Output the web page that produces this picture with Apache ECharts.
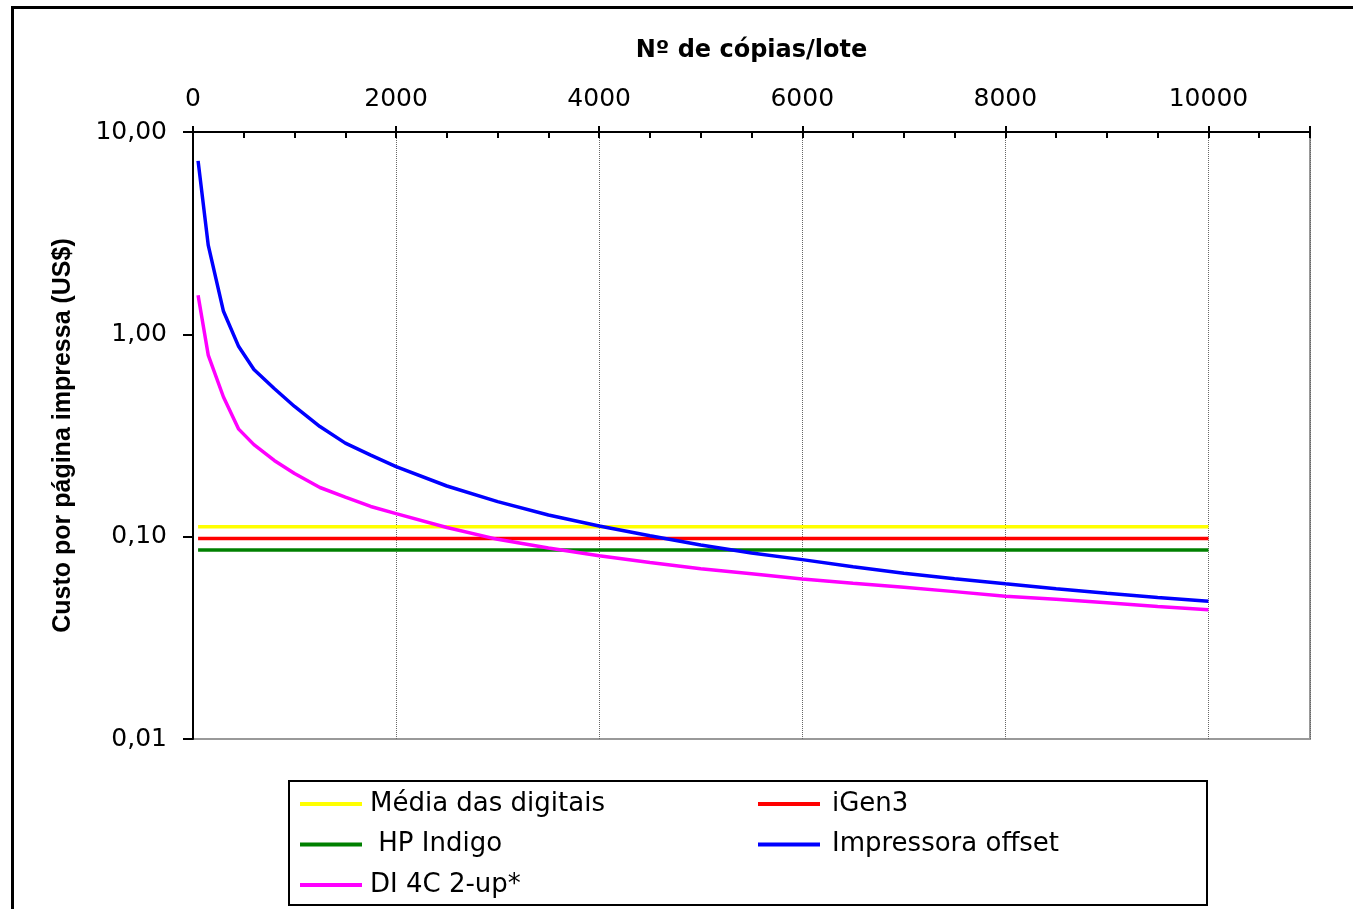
<!DOCTYPE html>
<html><head><meta charset="utf-8">
<script src="https://cdn.jsdelivr.net/npm/echarts@6/dist/echarts.min.js"></script>
<style>html,body{margin:0;padding:0;background:#fff}#c{width:1353px;height:909px}</style>
</head><body><div id="c"></div>
<script>
// ---- data ----
const copies = [50,150,300,450,600,800,1000,1250,1500,1750,2000,2500,3000,3500,4000,4500,5000,5500,6000,6500,7000,7500,8000,8500,9000,9500,10000];
const offsetCost = [7.2,2.76,1.30,0.87,0.67,0.54,0.44,0.35,0.29,0.253,0.222,0.178,0.149,0.128,0.113,0.101,0.091,0.083,0.077,0.071,0.066,0.062,0.0585,0.0553,0.0525,0.050,0.048];
const di4cCost = [1.56,0.79,0.49,0.34,0.285,0.238,0.205,0.175,0.157,0.141,0.130,0.111,0.097,0.088,0.0805,0.0745,0.0695,0.0655,0.0617,0.0588,0.0562,0.0535,0.0508,0.049,0.0471,0.0452,0.0435];
const flatRange = [50, 10000];
const mediaDigitais = 0.112;
const iGen3Cost = 0.098;
const hpIndigoCost = 0.086;
const xTickLabels = [0,2000,4000,6000,8000,10000];
const yTickLabels = ['0,01','0,10','1,00','10,00'];
const seriesNames = ['Média das digitais','iGen3',' HP Indigo','Impressora offset','DI 4C 2-up*'];

const pair = (xs, ys) => xs.map((x, i) => [x, ys[i]]);
const flat = v => flatRange.map(x => [x, v]);

const chart = echarts.init(document.getElementById('c'), null, {renderer: 'canvas'});
const lineSeries = (name, data, color) => ({
  name, type: 'line', data, xAxisIndex: 0, yAxisIndex: 0,
  showSymbol: false, symbol: 'none', smooth: false,
  lineStyle: {color, width: 3.5}, itemStyle: {color}
});
const legendText = {fontFamily: 'DejaVu Sans', fontSize: 26, color: '#000', lineHeight: 26};

chart.setOption({
  animation: false,
  backgroundColor: '#fff',
  grid: {left: 193, right: 43, top: 132, bottom: 170, show: true, borderColor: '#999', borderWidth: 2, backgroundColor: 'transparent'},
  xAxis: [{
    type: 'value', position: 'top', min: 0, max: 11000, interval: 2000,
    name: 'Nº de cópias/lote', nameLocation: 'middle', nameGap: 69,
    nameTextStyle: {fontFamily: 'DejaVu Sans', fontWeight: 'bold', fontSize: 24, color: '#000'},
    axisLine: {show: true, onZero: false, lineStyle: {color: '#000', width: 2}},
    axisTick: {show: true, inside: false, length: 6, lineStyle: {color: '#000', width: 2}},
    axisLabel: {show: true, margin: 20, fontFamily: 'DejaVu Sans', fontSize: 25, color: '#000',
      formatter: v => xTickLabels.includes(v) ? String(v) : ''},
    splitLine: {show: true, lineStyle: {color: '#666', width: 1, type: [1, 1]}}
  }, {
    type: 'value', position: 'top', min: 0, max: 11000, interval: 500,
    axisLine: {show: false}, axisLabel: {show: false}, splitLine: {show: false},
    axisTick: {show: true, inside: true, length: 6, lineStyle: {color: '#000', width: 2}}
  }],
  yAxis: {
    type: 'log', logBase: 10, min: 0.01, max: 10,
    name: 'Custo por página impressa (US$)', nameLocation: 'middle', nameGap: 117, nameRotate: 90,
    nameTextStyle: {fontFamily: 'Liberation Sans', fontWeight: 'bold', fontSize: 25, color: '#000'},
    axisLine: {show: true, onZero: false, lineStyle: {color: '#000', width: 2}},
    axisTick: {show: true, inside: false, length: 10, lineStyle: {color: '#000', width: 2}},
    axisLabel: {margin: 26, fontFamily: 'DejaVu Sans', fontSize: 25, color: '#000',
      formatter: v => { const i = [0.01,0.1,1,10].findIndex(t => Math.abs(t - v) / t < 1e-6); return i >= 0 ? yTickLabels[i] : ''; }},
    splitLine: {show: false}
  },
  legend: [{
    orient: 'vertical', left: 300, top: 791, padding: 0, itemWidth: 62, itemHeight: 4, itemGap: 14.5, icon: 'rect',
    data: [seriesNames[0], seriesNames[2], seriesNames[4]],
    textStyle: Object.assign({padding: [0,0,0,3]}, legendText), selectedMode: false
  }, {
    orient: 'vertical', left: 758, top: 791, padding: 0, itemWidth: 62, itemHeight: 4, itemGap: 14.5, icon: 'rect',
    data: [seriesNames[1], seriesNames[3]],
    textStyle: Object.assign({padding: [0,0,0,7]}, legendText), selectedMode: false
  }],
  graphic: [
    {type: 'rect', shape: {x: 12.5, y: 7.5, width: 1400, height: 1000}, style: {fill: 'none', stroke: '#000', lineWidth: 3}, silent: true},
    {type: 'rect', shape: {x: 289, y: 781, width: 918, height: 124}, style: {fill: 'none', stroke: '#000', lineWidth: 2}, silent: true}
  ],
  series: [
    lineSeries(seriesNames[0], flat(mediaDigitais), '#FFFF00'),
    lineSeries(seriesNames[1], flat(iGen3Cost), '#FF0000'),
    lineSeries(seriesNames[2], flat(hpIndigoCost), '#008000'),
    lineSeries(seriesNames[3], pair(copies, offsetCost), '#0000FF'),
    lineSeries(seriesNames[4], pair(copies, di4cCost), '#FF00FF')
  ]
});
</script></body></html>
